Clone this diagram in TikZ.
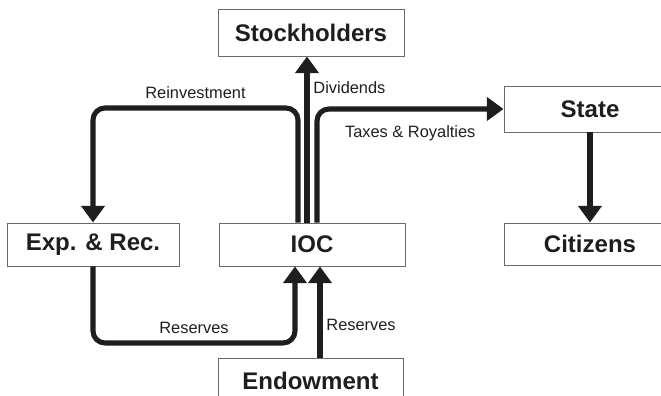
\documentclass[tikz,border=0pt]{standalone}
\usepackage{fontspec}
\setmainfont{Liberation Sans}
\usepackage{tikz}
\usetikzlibrary{arrows.meta}
\usetikzlibrary{positioning}
\definecolor{ink}{HTML}{1E1E1E}
\definecolor{frame}{HTML}{6A6A6A}
\tikzstyle{block} = [draw=frame, line width=0.8pt, rectangle, minimum height=1.29cm, minimum width=5.58cm, text=ink, font=\fontsize{20.5}{24}\selectfont\bfseries]
\tikzstyle{flow} = [draw=ink, line width=4.3pt, rounded corners=0.36cm, -{Triangle[length=0.5cm, width=0.69cm]}]
\tikzstyle{lbl} = [text=ink, font=\fontsize{14}{16}\selectfont]

\begin{document}
\begin{tikzpicture}[x=0.03cm, y=0.03cm]
\useasboundingbox (0,0) rectangle (661,396);
% Blocks
\node [block] (ioc) at (312,151.5) {IOC};
\node [block, minimum width=5.16cm] (exprec) at (93,151.5) {Exp. \& Rec.};
\node [block, minimum height=1.41cm] (stock) at (311,363.5) {Stockholders};
\node [block, minimum width=5.16cm, minimum height=1.38cm] (state) at (590,287) {State};
\node [block, minimum width=5.16cm, minimum height=1.26cm] (citizens) at (590,152) {Citizens};
\node [block, minimum width=5.55cm, minimum height=1.38cm] (endow) at (310.5,15) {Endowment};

% Helper points
\coordinate (top) at (0,288);
\coordinate (low) at (0,53);
\coordinate (resin) at ([xshift=-0.51cm]ioc.south);
\coordinate (endin) at ([xshift=0.24cm]ioc.south);

% Flows out of the IOC
\draw [flow] ([xshift=-0.42cm]ioc.north) |- node [lbl, pos=0.75, above=0.1cm] {Reinvestment} (top -| exprec.north) -- (exprec.north);
\draw [flow] ([xshift=-0.15cm]ioc.north) -- node [lbl, pos=0.81, right] {Dividends} ([xshift=-0.15cm]ioc.north |- stock.south);
\draw [flow] ([xshift=0.15cm]ioc.north) |- node [lbl, pos=0.75, below=0.3cm] {Taxes \& Royalties} (state.west);
\draw [flow] (state.south) -- (citizens.north);

% Flows into the IOC
\draw [flow] (exprec.south) |- node [lbl, pos=0.75, above=0.1cm] {Reserves} (low -| resin) -- (resin);
\draw [flow] (endow.north -| endin) -- node [lbl, pos=0.36, right] {Reserves} (endin);
\end{tikzpicture}
\end{document}
